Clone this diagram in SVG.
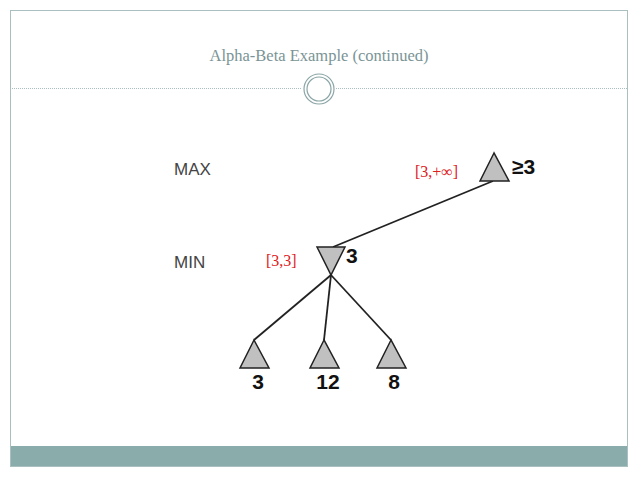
<svg xmlns="http://www.w3.org/2000/svg" width="638" height="478" viewBox="0 0 638 478">
<style>
.tri{fill:#c0c0c0;stroke:#222;stroke-width:1.5}
.lbl{font-family:"Liberation Sans",Arial,sans-serif;font-size:17px;fill:#444}
.val{font-family:"Liberation Sans",Arial,sans-serif;font-size:21px;font-weight:bold;fill:#111}
.red{font-family:"Liberation Serif","Times New Roman",serif;font-size:16px;fill:#e0201c}
</style>
<rect width="638" height="478" fill="#fff"/>
<rect x="10.5" y="10.5" width="617" height="456" fill="none" stroke="#a9bfc0"/>
<rect x="11" y="446" width="616" height="20" fill="#8aacab"/>
<line x1="10" y1="88.5" x2="302" y2="88.5" stroke="#a9bfc0" stroke-dasharray="1,1"/>
<line x1="336" y1="88.5" x2="628" y2="88.5" stroke="#a9bfc0" stroke-dasharray="1,1"/>
<circle cx="319" cy="89" r="15" fill="none" stroke="#8aa5a6" stroke-width="1.2"/>
<circle cx="319" cy="89" r="12" fill="none" stroke="#8aa5a6" stroke-width="1.2"/>
<text x="319" y="61" text-anchor="middle" font-family="Liberation Serif,serif" font-size="16.5" fill="#7a9496">Alpha-Beta Example (continued)</text>
<text class="lbl" x="174" y="175">MAX</text>
<text class="lbl" x="174" y="268">MIN</text>
<g id="connectors" stroke="#222" stroke-width="1.8">
<line x1="493" y1="181" x2="333" y2="247"/>
<line x1="331" y1="275" x2="254" y2="340"/>
<line x1="331" y1="275" x2="324" y2="340"/>
<line x1="331" y1="275" x2="391" y2="340"/>
</g>
<g id="max"><polygon class="tri" points="494,153 480,181 509,181"/><text class="val" x="512" y="174">≥3</text><text class="red" x="415" y="177">[3,+∞]</text></g>
<g id="min"><polygon class="tri" points="317,247 345,247 331,275"/><text class="val" x="346" y="263">3</text><text class="red" x="266" y="266">[3,3]</text></g>
<g id="leaf1"><polygon class="tri" points="254,340 240,368 269,368"/><text class="val" x="258" y="389" text-anchor="middle">3</text></g>
<g id="leaf2"><polygon class="tri" points="324,340 310,368 339,368"/><text class="val" x="328" y="389" text-anchor="middle">12</text></g>
<g id="leaf3"><polygon class="tri" points="391,340 377,368 406,368"/><text class="val" x="394" y="389" text-anchor="middle">8</text></g>
</svg>
